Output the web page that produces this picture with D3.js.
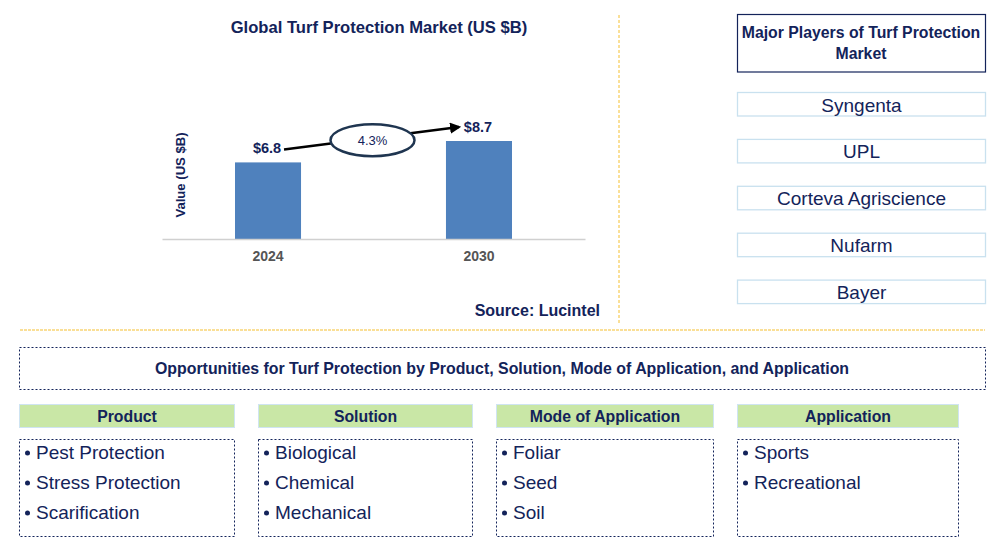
<!DOCTYPE html>
<html><head><meta charset="utf-8">
<script src="https://cdn.jsdelivr.net/npm/d3@7"></script>
<style>body{margin:0;background:#fff;}svg{display:block;font-family:"Liberation Sans",Arial,sans-serif;}</style>
</head><body>
<svg id="c" width="1005" height="557"></svg>
<script>
const years = ["2024", "2030"];
const values = [6.8, 8.7];
const valueLabels = ["$6.8", "$8.7"];
const cagrLabel = "4.3%";
const players = ["Syngenta", "UPL", "Corteva Agriscience", "Nufarm", "Bayer"];
const segments = ["Product", "Solution", "Mode of Application", "Application"];
const segmentItems = [
  ["Pest Protection", "Stress Protection", "Scarification"],
  ["Biological", "Chemical", "Mechanical"],
  ["Foliar", "Seed", "Soil"],
  ["Sports", "Recreational"]
];

const navy = "#13235a";
const svg = d3.select("#c");

// ---- Chart ----
const x = d3.scaleBand().domain(years).range([162, 585]).paddingInner(0.687).paddingOuter(0.346);
const y = d3.scaleLinear().domain([0, 8.7]).range([239, 141]);

svg.append("text").attr("x", 379).attr("y", 33).attr("text-anchor", "middle")
  .attr("font-size", 16.6).attr("font-weight", "bold").attr("fill", navy)
  .text("Global Turf Protection Market (US $B)");

svg.selectAll("rect.bar").data(values).enter().append("rect").attr("class", "bar")
  .attr("x", (d, i) => x(years[i])).attr("width", x.bandwidth())
  .attr("y", d => y(d)).attr("height", d => y(0) - y(d)).attr("fill", "#4f81bd");

const xAxis = svg.append("g").attr("transform", `translate(0,${y(0)})`)
  .call(d3.axisBottom(x).tickSize(0).tickPadding(12));
xAxis.select(".domain").attr("stroke", "#d0d0d0").attr("stroke-width", 1.3);
xAxis.selectAll("text").attr("font-size", 14).attr("font-weight", "bold").attr("fill", "#555")
  .attr("font-family", "Liberation Sans, Arial, sans-serif");

svg.append("text").attr("transform", "translate(185,175) rotate(-90)").attr("text-anchor", "middle")
  .attr("font-size", 13.1).attr("font-weight", "bold").attr("fill", navy).text("Value (US $B)");

// value labels
svg.selectAll("text.vl").data(values).enter().append("text").attr("class", "vl")
  .attr("x", (d, i) => x(years[i]) + x.bandwidth() / 2 - 1)
  .attr("y", d => y(d) - 9).attr("text-anchor", "middle")
  .attr("font-size", 14.5).attr("font-weight", "bold").attr("fill", navy)
  .text((d, i) => valueLabels[i]);

// arrow
const defs = svg.append("defs");
defs.append("marker").attr("id", "ah").attr("viewBox", "0 0 10 10").attr("refX", 8).attr("refY", 5)
  .attr("markerWidth", 4.5).attr("markerHeight", 4.5).attr("orient", "auto")
  .append("path").attr("d", "M0,0 L10,5 L0,10 z").attr("fill", "#000");
const x0 = x(years[0]) + x.bandwidth() / 2 + 16, y0 = y(values[0]) - 13;
const x1 = x(years[1]) + x.bandwidth() / 2 - 20, y1 = y(values[1]) - 14;
svg.append("line").attr("x1", x0).attr("y1", y0).attr("x2", x1).attr("y2", y1)
  .attr("stroke", "#000").attr("stroke-width", 2.5).attr("marker-end", "url(#ah)");
const ex = (x0 + x1) / 2 + 1, ey = (y0 + y1) / 2 + 2;
svg.append("ellipse").attr("cx", ex).attr("cy", ey).attr("rx", 42).attr("ry", 16)
  .attr("fill", "#fff").attr("stroke", "#1f3550").attr("stroke-width", 2.5);
svg.append("text").attr("x", ex).attr("y", ey + 4.5).attr("text-anchor", "middle")
  .attr("font-size", 13).attr("fill", navy).text(cagrLabel);

svg.append("text").attr("x", 600).attr("y", 316).attr("text-anchor", "end")
  .attr("font-size", 16).attr("font-weight", "bold").attr("fill", navy).text("Source: Lucintel");

// separators
svg.append("line").attr("x1", 619).attr("x2", 619).attr("y1", 15).attr("y2", 325)
  .attr("stroke", "#f5c030").attr("stroke-width", 1).attr("stroke-dasharray", "3,2");
svg.append("line").attr("x1", 20).attr("x2", 985).attr("y1", 330).attr("y2", 330)
  .attr("stroke", "#f5c030").attr("stroke-width", 1.2).attr("stroke-dasharray", "3,1");

// ---- Players ----
svg.append("rect").attr("x", 737.5).attr("y", 14.5).attr("width", 248).attr("height", 57.5)
  .attr("fill", "#fff").attr("stroke", navy).attr("stroke-width", 1.2);
svg.append("text").attr("x", 861).attr("y", 37.5).attr("text-anchor", "middle")
  .attr("font-size", 15.8).attr("font-weight", "bold").attr("fill", navy).text("Major Players of Turf Protection");
svg.append("text").attr("x", 861).attr("y", 58.5).attr("text-anchor", "middle")
  .attr("font-size", 15.8).attr("font-weight", "bold").attr("fill", navy).text("Market");

const py = d3.scaleBand().domain(players).range([92.5, 327]).paddingInner(0.0).paddingOuter(0);
const pg = svg.selectAll("g.pl").data(players).enter().append("g").attr("class", "pl")
  .attr("transform", d => `translate(737.5,${py(d)})`);
pg.append("rect").attr("width", 248).attr("height", 23.5).attr("fill", "#fff")
  .attr("stroke", "#c9e1ef").attr("stroke-width", 1.3);
pg.append("text").attr("x", 124).attr("y", 19).attr("text-anchor", "middle")
  .attr("font-size", 19).attr("fill", navy).text(d => d);

// ---- Opportunities ----
svg.append("rect").attr("x", 19.5).attr("y", 347.5).attr("width", 966).attr("height", 42)
  .attr("fill", "#fff").attr("stroke", navy).attr("stroke-width", 1).attr("stroke-dasharray", "2,2");
svg.append("text").attr("x", 502).attr("y", 374).attr("text-anchor", "middle")
  .attr("font-size", 15.9).attr("font-weight", "bold").attr("fill", navy)
  .text("Opportunities for Turf Protection by Product, Solution, Mode of Application, and Application");

const segX = [19.5, 258.5, 496.5, 737.5];
const segW = [215, 214, 217, 221];
segments.forEach((s, i) => {
  const g = svg.append("g").attr("transform", `translate(${segX[i]},0)`);
  g.append("rect").attr("y", 404.5).attr("width", segW[i]).attr("height", 23)
    .attr("fill", "#c9e7a6").attr("stroke", "#cfe4f2").attr("stroke-width", 1);
  g.append("text").attr("x", segW[i] / 2).attr("y", 421.5).attr("text-anchor", "middle")
    .attr("font-size", 15.8).attr("font-weight", "bold").attr("fill", navy).text(s);
  g.append("rect").attr("y", 439.5).attr("width", segW[i]).attr("height", 97)
    .attr("fill", "#fff").attr("stroke", navy).attr("stroke-width", 1).attr("stroke-dasharray", "2,2");
  const it = g.selectAll("g.it").data(segmentItems[i]).enter().append("g")
    .attr("transform", (d, j) => `translate(0,${459 + j * 30})`);
  it.append("circle").attr("cx", 8).attr("cy", -6).attr("r", 2.5).attr("fill", navy);
  it.append("text").attr("x", 16.5).attr("y", 0).attr("font-size", 19).attr("fill", navy).text(d => d);
});
</script>
</body></html>
